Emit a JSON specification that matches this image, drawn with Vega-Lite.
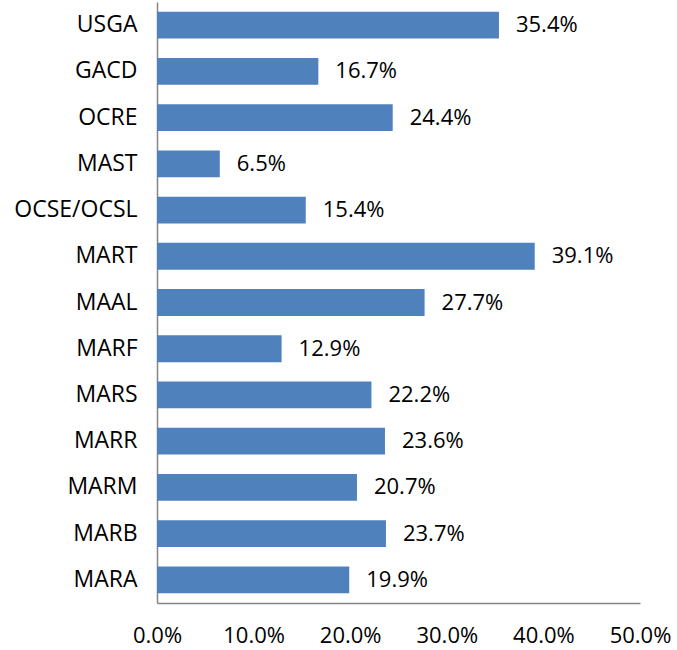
{
  "$schema": "https://vega.github.io/schema/vega-lite/v6.json",
  "autosize": "none",
  "width": 483,
  "height": 601,
  "padding": {"left": 157, "top": 2, "right": 37, "bottom": 47},
  "background": "white",
  "config": {"view": {"stroke": null}, "font": "Open Sans"},
  "data": {"values": [
    {"cat": "USGA", "v": 0.354},
    {"cat": "GACD", "v": 0.167},
    {"cat": "OCRE", "v": 0.244},
    {"cat": "MAST", "v": 0.065},
    {"cat": "OCSE/OCSL", "v": 0.154},
    {"cat": "MART", "v": 0.391},
    {"cat": "MAAL", "v": 0.277},
    {"cat": "MARF", "v": 0.129},
    {"cat": "MARS", "v": 0.222},
    {"cat": "MARR", "v": 0.236},
    {"cat": "MARM", "v": 0.207},
    {"cat": "MARB", "v": 0.237},
    {"cat": "MARA", "v": 0.199}
  ]},
  "encoding": {
    "y": {"field": "cat", "type": "nominal", "sort": null,
      "scale": {"paddingInner": 0.42, "paddingOuter": 0.21},
      "axis": {"title": null, "ticks": false, "domainColor": "#868686", "domainWidth": 1.5,
        "labelFont": "Open Sans", "labelFontSize": 23, "labelColor": "#000000", "labelPadding": 20, "labelLimit": 200}},
    "x": {"field": "v", "type": "quantitative",
      "scale": {"domain": [0, 0.5], "nice": false},
      "axis": {"title": null, "format": ".1%", "values": [0, 0.1, 0.2, 0.3, 0.4, 0.5], "grid": false, "ticks": false,
        "labelFlush": false, "labelOverlap": false,
        "domainColor": "#868686", "domainWidth": 1.5,
        "labelFont": "Open Sans", "labelFontSize": 22, "labelColor": "#000000", "labelPadding": 22}}
  },
  "layer": [
    {"mark": {"type": "bar", "color": "#4F81BD"}},
    {"mark": {"type": "text", "align": "left", "dx": 17, "fontSize": 22, "font": "Open Sans", "color": "#000000"},
     "encoding": {"text": {"field": "v", "type": "quantitative", "format": ".1%"}}}
  ]
}
